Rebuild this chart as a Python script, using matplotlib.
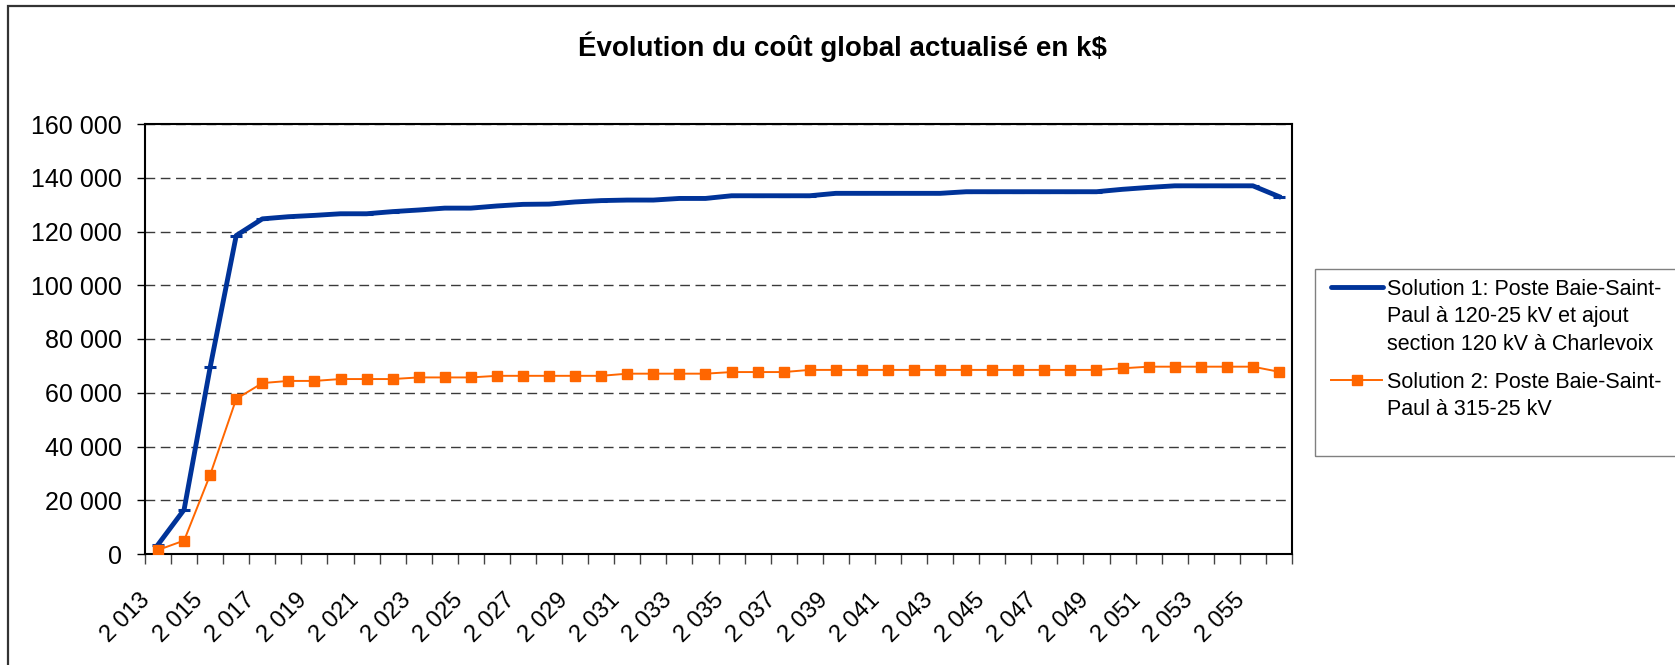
import matplotlib
matplotlib.use("Agg")
import matplotlib.pyplot as plt
from matplotlib.patches import Rectangle
from matplotlib.lines import Line2D
from matplotlib.ticker import FixedLocator, FuncFormatter
from matplotlib.transforms import ScaledTranslation

plt.rcParams['font.family'] = ['Liberation Sans', 'DejaVu Sans']

years = list(range(2013, 2057))
solution1 = [3500, 16500, 69500, 118500, 124700, 125500, 126000, 126600, 126600, 127400,
             128000, 128700, 128700, 129500, 130100, 130200, 131000, 131500, 131700, 131700,
             132300, 132300, 133300, 133300, 133300, 133300, 134200, 134200, 134200, 134200,
             134200, 134800, 134800, 134800, 134800, 134800, 134800, 135700, 136400, 137000,
             137000, 137000, 137000, 133000]
solution2 = [1500, 5000, 29500, 57700, 63600, 64400, 64400, 65100, 65100, 65100,
             65700, 65700, 65700, 66300, 66300, 66300, 66300, 66300, 67100, 67100,
             67100, 67100, 67700, 67700, 67700, 68500, 68500, 68500, 68500, 68500,
             68500, 68500, 68500, 68500, 68500, 68500, 68500, 69100, 69700, 69700,
             69700, 69700, 69700, 67800]
label1_lines = ["Solution 1: Poste Baie-Saint-", "Paul à 120-25 kV et ajout",
                "section 120 kV à Charlevoix"]
label2_lines = ["Solution 2: Poste Baie-Saint-", "Paul à 315-25 kV"]
title = "Évolution du coût global actualisé en k$"
y_ticks = list(range(0, 160001, 20000))

BLUE = '#003399'
ORANGE = '#FF6600'

W, H = 1675, 665
fig = plt.figure(figsize=(W / 100, H / 100), dpi=100)
ax = fig.add_axes([145 / W, (H - 554) / H, (1292 - 145) / W, (554 - 124) / H])

x = list(range(len(years)))
ax.plot(x, solution1, color=BLUE, lw=3.5, marker='_', markersize=9, mew=2.2,
        solid_joinstyle='round', zorder=3)
ax.plot(x, solution2, color=ORANGE, lw=1.4, marker='s', markersize=7, mec=ORANGE, zorder=4)

ax.set_xlim(-0.5, len(years) - 0.5)
ax.set_ylim(0, 160000)
ax.yaxis.set_major_locator(FixedLocator(y_ticks))
ax.yaxis.set_major_formatter(FuncFormatter(lambda v, p: f"{int(v):,}".replace(",", " ")))
ax.grid(axis='y', color='#3a3a3a', lw=1.0, linestyle=(0, (7, 4)))
ax.set_axisbelow(True)

# x ticks between categories, labels every 2 years
ax.xaxis.set_major_locator(FixedLocator([i for i in x if i % 2 == 0]))
ax.xaxis.set_major_formatter(FuncFormatter(
    lambda v, p: f"{years[int(round(v))]:,}".replace(",", " ") if 0 <= int(round(v)) < len(years) else ""))
ax.xaxis.set_minor_locator(FixedLocator([i - 0.5 for i in range(len(years) + 1)]))
ax.tick_params(axis='x', which='major', length=0, pad=31, labelsize=17)
ax.tick_params(axis='x', which='minor', length=7, width=1, color='#444444', direction='out')
ax.tick_params(axis='y', which='major', length=5.8, width=1, direction='out', labelsize=18, pad=10.8)
shift = ScaledTranslation(-11 / 100, 0, fig.dpi_scale_trans)
for lab in ax.get_xticklabels():
    lab.set_rotation(45)
    lab.set_ha('right')
    lab.set_va('center')
    lab.set_rotation_mode('anchor')
    lab.set_transform(lab.get_transform() + shift)

for s in ax.spines.values():
    s.set_color('black')
    s.set_linewidth(1.5)

fig.text(0.503, 1 - 47 / H, title, ha='center', va='center', fontsize=20, fontweight='bold')

# figure border (chart area)
fig.patches.append(Rectangle((8 / W, -0.2), 1.2, (H - 6) / H + 0.2, transform=fig.transFigure,
                             fill=False, edgecolor='#333333', lw=1.6))

# legend (frame extends past the right edge as in the original)
fig.patches.append(Rectangle((1315 / W, (H - 456) / H), 0.3, (456 - 269) / H, transform=fig.transFigure,
                             fill=False, edgecolor='#808080', lw=1.0))


def fy(py):
    return 1 - py / H


fig.add_artist(Line2D([1331 / W, 1383 / W], [fy(287), fy(287)], color=BLUE, lw=3.5,
                      solid_capstyle='round', transform=fig.transFigure))
fig.add_artist(Line2D([1331 / W, 1382 / W], [fy(380), fy(380)], color=ORANGE, lw=1.4,
                      transform=fig.transFigure))
fig.add_artist(Line2D([1357 / W], [fy(380)], color=ORANGE, marker='s', markersize=7,
                      mec=ORANGE, transform=fig.transFigure))
LEG_FS = 15.5
cap = LEG_FS * 100 / 72 * 0.716
for k, t in enumerate(label1_lines):
    fig.text(1387 / W, fy(287 + 27.5 * k + cap / 2), t, fontsize=LEG_FS, va='baseline', ha='left')
for k, t in enumerate(label2_lines):
    fig.text(1387 / W, fy(380 + 27.5 * k + cap / 2), t, fontsize=LEG_FS, va='baseline', ha='left')

fig.savefig("out.png", dpi=100)
